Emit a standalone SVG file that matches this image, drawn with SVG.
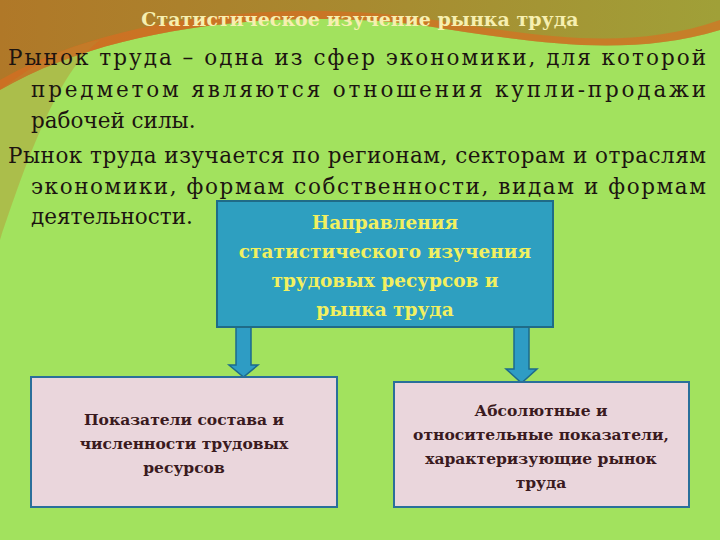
<svg xmlns="http://www.w3.org/2000/svg" width="720" height="540" viewBox="0 0 720 540">
<defs>
<linearGradient id="sw" x1="0" y1="0" x2="1" y2="0"><stop offset="0" stop-color="#b07828"/><stop offset="0.5" stop-color="#a88a30"/><stop offset="1" stop-color="#a0a038"/></linearGradient>
</defs>
<style>
text{font-family:"DejaVu Serif","Liberation Serif",serif}
.body{font-size:21.5px;fill:#1c1410}
.nb{font-weight:bold;font-size:15.5px;fill:#3a1a20;text-anchor:middle}
.hb{font-weight:bold;font-size:18.5px;fill:#f2f060;text-anchor:middle}
.box{fill:#ead6dc;stroke:#2a6f9a;stroke-width:2}
.arr{fill:#2e9cc4;stroke:#1d6a8c;stroke-width:1.5}
</style>
<rect width="720" height="540" fill="#a2e25e"/>
<path d="M0 0H720V30C620 60 520 40 420 25C300 10 120 20 0 90Z" fill="url(#sw)"/>
<path d="M0 90C120 20 300 10 420 25C520 40 620 60 720 30V20C620 55 520 32 420 18C300 2 120 10 0 80Z" fill="#e06a20" opacity="0.6"/>
<path d="M0 90C40 60 70 45 100 40C60 70 30 150 0 240Z" fill="#b88a30" opacity="0.4"/>
<text x="360" y="26" font-weight="bold" font-size="19" fill="#f6efb0" text-anchor="middle">Статистическое изучение рынка труда</text>
<text class="body" x="8" y="65" textLength="698" lengthAdjust="spacing">Рынок труда – одна из сфер экономики, для которой</text>
<text class="body" x="31" y="97" textLength="675" lengthAdjust="spacing">предметом являются отношения купли-продажи</text>
<text class="body" x="31" y="128">рабочей силы.</text>
<text class="body" x="8" y="163" textLength="698" lengthAdjust="spacing">Рынок труда изучается по регионам, секторам и отраслям</text>
<text class="body" x="31" y="194" textLength="675" lengthAdjust="spacing">экономики, формам собственности, видам и формам</text>
<text class="body" x="31" y="224">деятельности.</text>
<g id="connectors">
<path class="arr" d="M236 327H251V365H258L243.5 377L229 365H236Z"/>
<path class="arr" d="M514 327H529V369H537L521.5 383L506 369H514Z"/>
</g>
<g id="main">
<rect x="217" y="201" width="336" height="126" fill="#2e9fc0" stroke="#1f6b88" stroke-width="2"/>
<text class="hb" x="385" y="229">Направления</text>
<text class="hb" x="385" y="258">статистического изучения</text>
<text class="hb" x="385" y="287">трудовых ресурсов и</text>
<text class="hb" x="385" y="316">рынка труда</text>
</g>
<g id="left">
<rect class="box" x="31" y="377" width="306" height="130"/>
<text class="nb" x="184" y="425">Показатели состава и</text>
<text class="nb" x="184" y="449">численности трудовых</text>
<text class="nb" x="184" y="473">ресурсов</text>
</g>
<g id="right">
<rect class="box" x="394" y="382" width="295" height="125"/>
<text class="nb" x="541" y="416">Абсолютные и</text>
<text class="nb" x="541" y="440">относительные показатели,</text>
<text class="nb" x="541" y="464">характеризующие рынок</text>
<text class="nb" x="541" y="488">труда</text>
</g>
</svg>
